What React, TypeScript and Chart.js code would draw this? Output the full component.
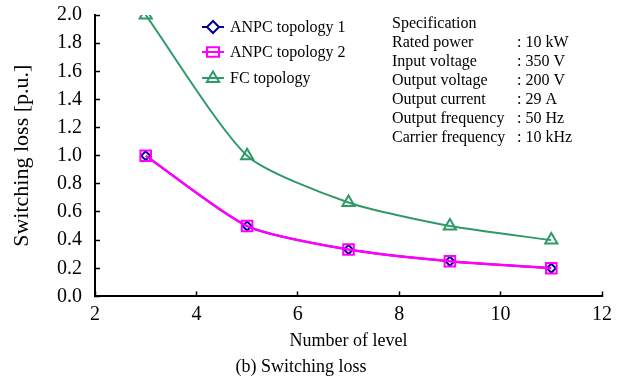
import React, { useEffect, useRef } from 'react';
import { Chart, registerables } from 'chart.js';

Chart.register(...registerables);

const levels = [3, 5, 7, 9, 11];
const anpc1Loss = [1.0, 0.5, 0.333, 0.25, 0.2];
const anpc2Loss = [1.0, 0.5, 0.333, 0.25, 0.2];
const fcLoss = [2.0, 1.0, 0.667, 0.5, 0.4];
const seriesNames = ['ANPC topology 1', 'ANPC topology 2', 'FC topology'];
const seriesColors = ['#000090', '#FF00FF', '#2E9A68'];
const specTitle = 'Specification';
const specLabels = ['Rated power', 'Input voltage', 'Output voltage', 'Output current', 'Output frequency', 'Carrier frequency'];
const specValues = ['10 kW', '350 V', '200 V', '29 A', '50 Hz', '10 kHz'];
const xTitle = 'Number of level';
const yTitle = 'Switching loss [p.u.]';
const caption = '(b) Switching loss';

const SERIF = "'Liberation Serif', 'Times New Roman', serif";
const TENSION = 0.22;

function drawMarker(ctx: CanvasRenderingContext2D, style: string, x: number, y: number, r: number, color: string, fill: string) {
  ctx.save();
  ctx.strokeStyle = color;
  ctx.fillStyle = fill;
  ctx.lineWidth = 2;
  ctx.beginPath();
  if (style === 'rectRot') {
    ctx.moveTo(x, y - r);
    ctx.lineTo(x + r, y);
    ctx.lineTo(x, y + r);
    ctx.lineTo(x - r, y);
    ctx.closePath();
  } else if (style === 'rect') {
    ctx.rect(x - r, y - r * 0.8, 2 * r, 1.6 * r);
  } else if (style === 'triangle') {
    ctx.moveTo(x, y - r);
    ctx.lineTo(x + r * 0.95, y + r * 0.6);
    ctx.lineTo(x - r * 0.95, y + r * 0.6);
    ctx.closePath();
  }
  if (fill !== 'transparent') ctx.fill();
  ctx.stroke();
  ctx.restore();
}

const overlayPlugin = {
  id: 'overlayPlugin',
  afterDraw(chart: any) {
    const ctx: CanvasRenderingContext2D = chart.ctx;
    const styles = ['rectRot', 'rect', 'triangle'];
    const sizes = [6, 6, 6.5];
    const rowsY = [27, 52, 78];
    ctx.save();
    for (let i = 0; i < seriesNames.length; i++) {
      const y = rowsY[i];
      ctx.strokeStyle = seriesColors[i];
      ctx.lineWidth = 2;
      ctx.beginPath();
      ctx.moveTo(202, y);
      ctx.lineTo(224, y);
      ctx.stroke();
      drawMarker(ctx, styles[i], 213, y, sizes[i], seriesColors[i], i === 0 ? '#ffffff' : 'transparent');
      ctx.fillStyle = '#000';
      ctx.font = `16px ${SERIF}`;
      ctx.textBaseline = 'middle';
      ctx.textAlign = 'left';
      ctx.fillText(seriesNames[i], 230, y + 1);
    }
    ctx.font = `16px ${SERIF}`;
    ctx.textBaseline = 'alphabetic';
    ctx.fillStyle = '#000';
    ctx.fillText(specTitle, 392, 27.5);
    for (let i = 0; i < specLabels.length; i++) {
      const y = 27.5 + 19.15 * (i + 1);
      ctx.fillText(specLabels[i], 392, y);
      ctx.fillText(': ' + specValues[i], 517, y);
    }
    ctx.restore();
  },
};

export default function App() {
  const canvasRef = useRef<HTMLCanvasElement | null>(null);

  useEffect(() => {
    document.body.style.margin = '0';
    const canvas = canvasRef.current;
    if (!canvas) return;
    const toPts = (ys: number[]) => levels.map((x, i) => ({ x, y: ys[i] }));
    const chart = new Chart(canvas, {
      type: 'line',
      data: {
        datasets: [
          {
            label: seriesNames[0],
            data: toPts(anpc1Loss),
            borderColor: seriesColors[0],
            backgroundColor: '#ffffff',
            borderWidth: 2,
            pointStyle: 'rectRot',
            pointRadius: 4.5,
            pointBorderWidth: 2,
            pointBackgroundColor: '#ffffff',
            pointBorderColor: seriesColors[0],
            tension: TENSION,
            order: 3,
          },
          {
            label: seriesNames[1],
            data: toPts(anpc2Loss),
            borderColor: seriesColors[1],
            backgroundColor: 'transparent',
            borderWidth: 2.5,
            pointStyle: 'rect',
            pointRadius: 7.5,
            pointBorderWidth: 2,
            pointBackgroundColor: 'transparent',
            pointBorderColor: seriesColors[1],
            tension: TENSION,
            order: 2,
          },
          {
            label: seriesNames[2],
            data: toPts(fcLoss),
            borderColor: seriesColors[2],
            backgroundColor: 'transparent',
            borderWidth: 2,
            pointStyle: 'triangle',
            pointRadius: 7,
            pointBorderWidth: 2,
            pointBackgroundColor: 'transparent',
            pointBorderColor: seriesColors[2],
            tension: TENSION,
            order: 1,
          },
        ],
      },
      options: {
        responsive: false,
        animation: false,
        layout: { padding: { top: 15, right: 17, left: 0, bottom: 0 } },
        plugins: {
          legend: { display: false },
          tooltip: { enabled: false },
          title: {
            display: true,
            position: 'bottom',
            text: caption,
            color: '#000',
            font: { family: SERIF, size: 18, weight: 'normal' },
            padding: { top: 4, bottom: 5 },
          },
        },
        scales: {
          x: {
            type: 'linear',
            min: 2,
            max: 12,
            ticks: {
              stepSize: 2,
              autoSkip: false,
              color: '#000',
              font: { family: SERIF, size: 20 },
              padding: 11,
              maxRotation: 0,
            },
            grid: { drawOnChartArea: false, tickLength: -5, tickColor: '#000', tickWidth: 1.5 },
            border: { color: '#000', width: 2 },
            title: {
              display: true,
              text: xTitle,
              color: '#000',
              font: { family: SERIF, size: 18 },
              padding: { top: 0, bottom: 0 },
            },
            afterFit: (s: any) => {
              s.height = 56;
              s.paddingLeft = 0;
              s.paddingRight = 10;
            },
          },
          y: {
            min: 0,
            max: 2,
            ticks: {
              stepSize: 0.2,
              autoSkip: false,
              color: '#000',
              font: { family: SERIF, size: 20 },
              padding: 18,
              callback: (v: any) => Number(v).toFixed(1),
            },
            grid: { drawOnChartArea: false, tickLength: -5, tickColor: '#000', tickWidth: 1.5 },
            border: { color: '#000', width: 2 },
            title: {
              display: true,
              text: yTitle,
              color: '#000',
              font: { family: SERIF, size: 22 },
              padding: { top: 9, bottom: 0 },
            },
            afterFit: (s: any) => {
              s.width = 95;
              s.paddingTop = 10;
              s.paddingBottom = 10;
            },
          },
        },
      } as any,
      plugins: [overlayPlugin],
    });
    return () => chart.destroy();
  }, []);

  return <canvas ref={canvasRef} width={619} height={383} style={{ display: 'block' }} />;
}
